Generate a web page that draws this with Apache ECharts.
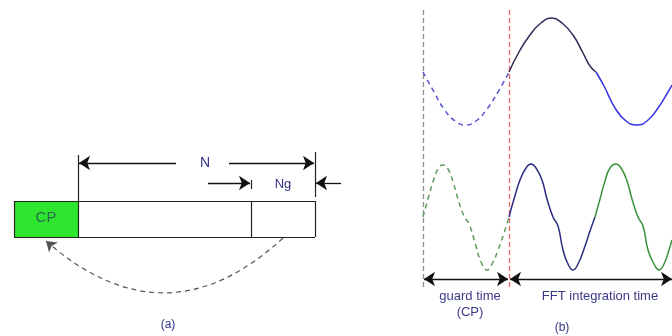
<!DOCTYPE html>
<html>
<head>
<meta charset="utf-8">
<script src="https://cdn.jsdelivr.net/npm/echarts@6/dist/echarts.min.js"></script>
<style>
  html, body { margin: 0; padding: 0; background: #fff; }
  #main { width: 672px; height: 336px; }
</style>
</head>
<body>
<div id="main"></div>
<script>
// wave samples (x, y in picture pixels)
const topGuard = [[423,72],[434,92],[444,109],[455,121],[466,125],[476,121],[487,109],[498,92],[509,72]];
const topFirst = [[509,72],[519,52],[530,35],[541,23],[552,18],[562,23],[573,35],[583,53],[590,66],[596,72]];
const topSecond = [[596,72],[604,86],[615,108],[626,121],[637,125],[647,121],[658,108],[668,92],[672,85]];
const lowGuard = [[423,217],[428,199],[433,182],[438,169],[443,165],[448,169],[453,182],[458,199],[464,216],[469,224],[476,246],[481,262],[487,270],[492,264],[498,250],[504,233],[509,217]];
const lowFirst = [[509,217],[514,199],[520,180],[526,168],[531,164],[536,168],[542,180],[547,199],[553,217],[558,226],[563,250],[568,264],[573,270],[578,264],[584,249],[590,231],[595,217]];
const lowSecond = [[595,217],[600,199],[605,181],[610,168],[616,164],[621,168],[627,181],[632,199],[638,217],[643,226],[648,250],[654,264],[659,270],[664,264],[669,250],[672,240]];

// block (a) edges
const boxEdges = [
  [[14,201],[315,201]], [[14,237],[315,237]],
  [[14,201],[14,237]], [[78,201],[78,237]], [[251,201],[251,237]], [[315,201],[315,237]],
  [[78,155],[78,201]], [[315,152],[315,197]], [[251,180],[251,189]]
];
// arrows: [from, to], head at "to"
const arrowsOne = [
  [[176,163],[79,163]], [[229,163],[314,163]],
  [[208,183],[250,183]], [[341,183],[316,183]],
  [[466,279],[424,279]], [[466,279],[508,279]],
  [[600,279],[510,279]], [[600,279],[672,279]]
];
const guides = [
  { c: [[423,10],[423,287]], color: '#8c8c8c' },
  { c: [[509,10],[509,290]], color: '#f26060' }
];

const chart = echarts.init(document.getElementById('main'));

const waveSeries = (data, color, dashed) => ({
  type: 'line',
  data: data,
  smooth: 0.5,
  showSymbol: false,
  silent: true,
  lineStyle: { color: color, width: 1.5, type: dashed ? [5, 4] : 'solid' },
  z: 3
});

const txt = (x, y, s, fill, size) => ({
  type: 'text', x: x, y: y, z: 10,
  style: { text: s, fill: fill, font: size + 'px "Liberation Sans", Arial', align: 'center', verticalAlign: 'middle' }
});

chart.setOption({
  animation: false,
  grid: { left: 0, right: 0, top: 0, bottom: 0 },
  xAxis: { type: 'value', min: 0, max: 672, show: false },
  yAxis: { type: 'value', min: 0, max: 336, inverse: true, show: false },
  graphic: [
    { type: 'rect', shape: { x: 14, y: 201, width: 64, height: 36 }, style: { fill: '#2fe62f' }, z: 1 },
    txt(46, 218, 'CP', '#2a6a55', 15),
    txt(205, 163, 'N', '#333388', 14),
    txt(283, 184, 'Ng', '#333388', 13),
    txt(168, 325, '(a)', '#333388', 12),
    txt(470, 296, 'guard time', '#3a3a8a', 13),
    txt(470, 312, '(CP)', '#3a3a8a', 13),
    txt(600, 296, 'FFT integration time', '#3a3a8a', 13),
    txt(562, 328, '(b)', '#333388', 12)
  ],
  series: [
    waveSeries(topGuard, '#5555d5', true),
    waveSeries(topFirst, '#2c2c55', false),
    waveSeries(topSecond, '#3333e0', false),
    waveSeries(lowGuard, '#5f9a5f', true),
    waveSeries(lowFirst, '#2c2c80', false),
    waveSeries(lowSecond, '#3a923a', false),
    {
      type: 'lines',
      coordinateSystem: 'cartesian2d',
      silent: true,
      symbol: 'none',
      lineStyle: { color: '#222', width: 1.2, opacity: 1 },
      data: boxEdges.map(c => ({ coords: c })),
      z: 4
    },
    {
      type: 'lines',
      coordinateSystem: 'cartesian2d',
      silent: true,
      symbol: ['none', 'arrow'],
      symbolSize: [7, 11],
      lineStyle: { color: '#111', width: 1.3, opacity: 1 },
      data: arrowsOne.map(c => ({ coords: c })),
      z: 5
    },
    {
      type: 'lines',
      coordinateSystem: 'cartesian2d',
      silent: true,
      symbol: 'none',
      data: guides.map(g => ({ coords: g.c, lineStyle: { color: g.color, width: 1.3, type: [5, 3], opacity: 1 } })),
      z: 2
    },
    {
      type: 'lines',
      coordinateSystem: 'cartesian2d',
      silent: true,
      symbol: ['none', 'arrow'],
      symbolSize: [7, 10],
      lineStyle: { color: '#555', width: 1.2, type: [5, 4], curveness: 0.45, opacity: 1 },
      data: [{ coords: [[283, 238], [46, 241]] }],
      z: 4
    }
  ]
});
</script>
</body>
</html>
